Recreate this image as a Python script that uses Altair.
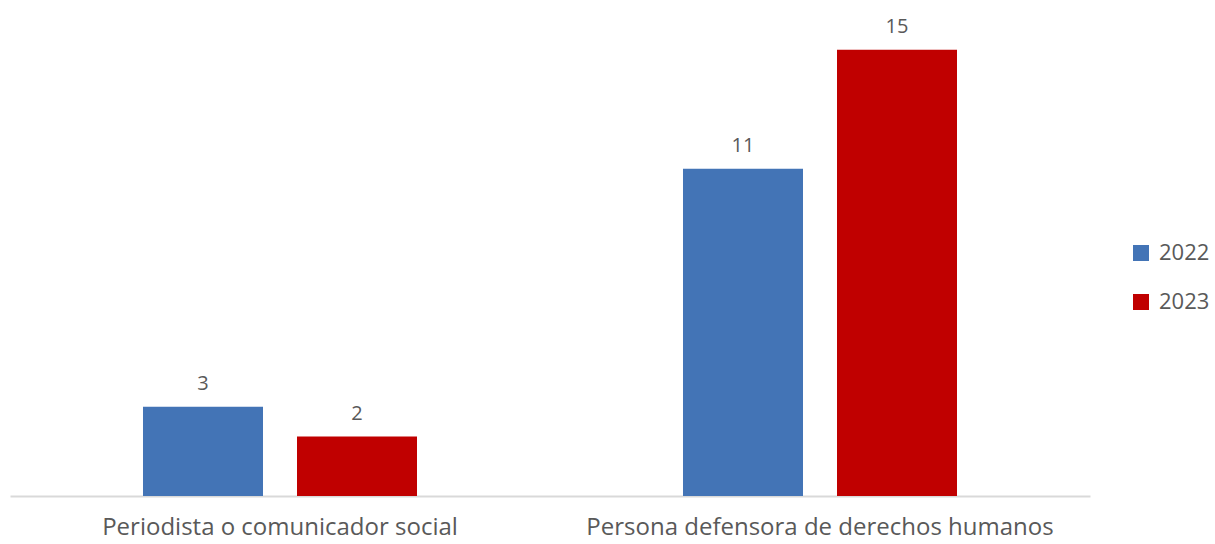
import altair as alt
import pandas as pd

categories = ["Periodista o comunicador social", "Persona defensora de derechos humanos"]
years = ["2022", "2023"]
values_2022 = [3, 11]
values_2023 = [2, 15]

rows = []
for cat, v22, v23 in zip(categories, values_2022, values_2023):
    rows.append({"categoria": cat, "anio": "2022", "valor": v22})
    rows.append({"categoria": cat, "anio": "2023", "valor": v23})
df = pd.DataFrame(rows)

colors = ["#4374B6", "#C00000"]
font = "Open Sans"
grey = "#595959"

x_enc = alt.X("categoria:N", sort=categories,
              scale=alt.Scale(paddingInner=0, paddingOuter=0),
              axis=alt.Axis(title=None, labelAngle=0, labelFontSize=24, labelColor=grey,
                            labelFont=font, labelPadding=19, labelLimit=0, ticks=False,
                            domainColor="#D9D9D9", domainWidth=2))
xoff = alt.XOffset("anio:N", sort=years,
                   scale=alt.Scale(paddingInner=0.2208, paddingOuter=0.8636))
y_enc = alt.Y("valor:Q", scale=alt.Scale(domain=[0, 16], nice=False),
              axis=None)

bars = alt.Chart(df).mark_bar().encode(
    x=x_enc, xOffset=xoff, y=y_enc,
    color=alt.Color("anio:N", sort=years, scale=alt.Scale(domain=years, range=colors),
                    legend=alt.Legend(title=None, orient="none", legendX=1120, legendY=222,
                                      symbolType="square", symbolSize=256, symbolStrokeWidth=0,
                                      labelFontSize=22, labelFont=font, labelColor=grey,
                                      rowPadding=27, labelOffset=7, labelLimit=0)),
)

labels = alt.Chart(df).mark_text(baseline="bottom", dy=-13, fontSize=20, font=font, color=grey).encode(
    x=alt.X("categoria:N", sort=categories), xOffset=xoff, y=y_enc, text="valor:Q"
)

chart = alt.layer(bars, labels).properties(
    width=1080, height=476,
    autosize=alt.AutoSizeParams(type="none"),
    padding={"left": 10, "top": 20, "right": 125, "bottom": 48},
).configure_view(stroke=None).configure_axis(grid=False)

chart.save("out.html", embed_options={"renderer": "svg", "actions": False})
